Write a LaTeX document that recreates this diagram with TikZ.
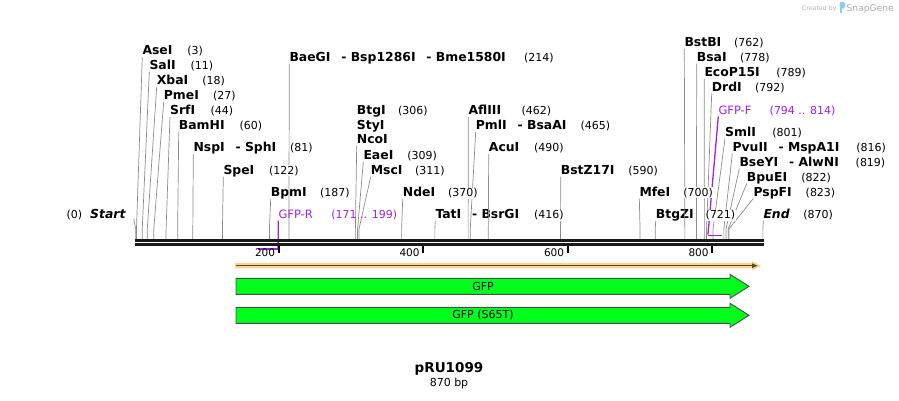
\documentclass[tikz,border=0pt]{standalone}
\usepackage{fontspec}
\setmainfont{DejaVu Sans}
\definecolor{primer}{RGB}{160,32,240}
\definecolor{gfpgreen}{RGB}{0,255,26}
\definecolor{orfband}{RGB}{252,212,140}
\definecolor{orfline}{RGB}{90,72,48}
\definecolor{logoblue}{RGB}{140,205,240}
\newcommand{\sep}{\hspace{6.5pt} - }
\begin{document}
\begin{tikzpicture}[x=1pt,y=-1pt,
    enz/.style={font=\fontsize{12.4}{14}\selectfont\bfseries,inner sep=0pt,anchor=base west},
    num/.style={font=\fontsize{11}{13}\selectfont,inner sep=0.5pt,anchor=base west,fill=white},
    prim/.style={font=\fontsize{11.5}{13}\selectfont,inner sep=0pt,anchor=base west,text=primer},
    siteline/.style={draw=black!45,line width=0.7pt},
    primline/.style={draw=primer,line width=1.3pt},
    tick/.style={font=\fontsize{10.5}{12}\selectfont,inner sep=0pt,anchor=base east},
    feat/.style={font=\fontsize{11}{13}\selectfont,inner sep=0pt},
    arrowbox/.style={fill=gfpgreen,draw=black!70,line width=0.9pt}]
  \useasboundingbox (0,0) rectangle (899,400);

  % cut sites (on the backbone and at the bend)
  \foreach \bpv in {3,11,18,27,44,60,81,122,187,214,306,309,311,370,416,462,465,490,590,700,721,762,778,789,792,801,816,819,822,823,870} {
    \coordinate (s\bpv) at ({134.3+0.7225*\bpv},239);
    \coordinate (k\bpv) at ({134.3+0.7225*\bpv},229);
  }
  \coordinate (s0) at (135.8,239);
  \coordinate (k0) at (135.8,229);
  % primer ends
  \coordinate (p171) at ({134.3+0.7225*171},249);
  \coordinate (p199) at ({134.3+0.7225*199},249);
  \coordinate (p794) at ({134.3+0.7225*794},235.5);
  \coordinate (p814) at ({134.3+0.7225*814},235.5);

  % enzyme names
  \node[enz] (asei) at (142.3,54.3) {AseI};
  \node[enz] (sali) at (149.3,69.3) {SalI};
  \node[enz] (xbai) at (156.7,84.3) {XbaI};
  \node[enz] (pmei) at (163.7,99.3) {PmeI};
  \node[enz] (srfi) at (170,114.3) {SrfI};
  \node[enz] (bamhi) at (178.7,129.3) {BamHI};
  \node[enz] (nspi) at (193.3,151.6) {NspI\sep SphI};
  \node[enz] (spei) at (223.3,174.3) {SpeI};
  \node[enz] (bpmi) at (270.7,196.6) {BpmI};
  \node[enz] (baegi) at (289.3,61) {BaeGI\sep Bsp1286I\sep Bme1580I};
  \node[enz] (btgi) at (356.7,114.3) {BtgI};
  \node[enz] (styi) at (356.7,129.3) {StyI};
  \node[enz] (ncoi) at (356.7,143.6) {NcoI};
  \node[enz] (eaei) at (363.3,159.3) {EaeI};
  \node[enz] (msci) at (370.7,174.3) {MscI};
  \node[enz] (ndei) at (402.7,196.6) {NdeI};
  \node[enz] (tati) at (435.3,218.6) {TatI\sep BsrGI};
  \node[enz] (afliii) at (468.3,114.3) {AflIII};
  \node[enz] (pmli) at (475.7,129.3) {PmlI\sep BsaAI};
  \node[enz] (acui) at (488.7,151.6) {AcuI};
  \node[enz] (bstz) at (560.7,174.3) {BstZ17I};
  \node[enz] (mfei) at (639.3,196) {MfeI};
  \node[enz] (btgzi) at (655.7,218.6) {BtgZI};
  \node[enz] (bstbi) at (684.3,46) {BstBI};
  \node[enz] (bsai) at (696.7,61) {BsaI};
  \node[enz] (ecop) at (704.3,76) {EcoP15I};
  \node[enz] (drdi) at (711.7,91) {DrdI};
  \node[enz] (smli) at (725,136) {SmlI};
  \node[enz] (pvuii) at (732.3,151) {PvuII\sep MspA1I};
  \node[enz] (bseyi) at (739.3,166) {BseYI\sep AlwNI};
  \node[enz] (bpuei) at (746.7,181) {BpuEI};
  \node[enz] (pspfi) at (753.3,196) {PspFI};
  \node[enz,font=\fontsize{12.4}{14}\selectfont\bfseries\itshape] (startlbl) at (90,218.6) {Start};
  \node[enz,font=\fontsize{12.4}{14}\selectfont\bfseries\itshape] (endlbl) at (763.3,218.6) {End};
  \node[prim] (gfpr) at (278.3,218.6) {GFP-R};
  \node[prim] (gfpf) at (718.3,114.3) {GFP-F};

  % lines from the names to the sites
  \draw[siteline] ([yshift=-2.5pt]asei.base west) -- (k3) -- (s3);
  \draw[siteline] ([yshift=-2.5pt]sali.base west) -- (k11) -- (s11);
  \draw[siteline] ([yshift=-2.5pt]xbai.base west) -- (k18) -- (s18);
  \draw[siteline] ([yshift=-2.5pt]pmei.base west) -- (k27) -- (s27);
  \draw[siteline] ([yshift=-2.5pt]srfi.base west) -- (k44) -- (s44);
  \draw[siteline] ([yshift=-2.5pt]bamhi.base west) -- (k60) -- (s60);
  \draw[siteline] ([yshift=-2.5pt]nspi.base west) -- (k81) -- (s81);
  \draw[siteline] ([yshift=-2.5pt]spei.base west) -- (k122) -- (s122);
  \draw[siteline] ([yshift=-2.5pt]bpmi.base west) -- (k187) -- (s187);
  \draw[siteline] ([yshift=-2.5pt]baegi.base west) -- (k214) -- (s214);
  \draw[siteline] ([yshift=-2.5pt]ncoi.base west) -- (k306) -- (s306);
  \draw[siteline] ([yshift=-2.5pt]eaei.base west) -- (k309) -- (s309);
  \draw[siteline] ([yshift=-2.5pt]msci.base west) -- (k311) -- (s311);
  \draw[siteline] ([yshift=-2.5pt]ndei.base west) -- (k370) -- (s370);
  \draw[siteline] ([yshift=-2.5pt]tati.base west) -- (k416) -- (s416);
  \draw[siteline] ([yshift=-2.5pt]afliii.base west) -- (k462) -- (s462);
  \draw[siteline] ([yshift=-2.5pt]pmli.base west) -- (k465) -- (s465);
  \draw[siteline] ([yshift=-2.5pt]acui.base west) -- (k490) -- (s490);
  \draw[siteline] ([yshift=-2.5pt]bstz.base west) -- (k590) -- (s590);
  \draw[siteline] ([yshift=-2.5pt]mfei.base west) -- (k700) -- (s700);
  \draw[siteline] ([yshift=-2.5pt]btgzi.base west) -- (k721) -- (s721);
  \draw[siteline] ([yshift=-2.5pt]bstbi.base west) -- (k762) -- (s762);
  \draw[siteline] ([yshift=-2.5pt]bsai.base west) -- (k778) -- (s778);
  \draw[siteline] ([yshift=-2.5pt]ecop.base west) -- (k789) -- (s789);
  \draw[siteline] ([yshift=-2.5pt]drdi.base west) -- (k792) -- (s792);
  \draw[siteline] ([yshift=-2.5pt]smli.base west) -- (k801) -- (s801);
  \draw[siteline] ([yshift=-2.5pt]pvuii.base west) -- (k816) -- (s816);
  \draw[siteline] ([yshift=-2.5pt]bseyi.base west) -- (k819) -- (s819);
  \draw[siteline] ([yshift=-2.5pt]bpuei.base west) -- (k822) -- (s822);
  \draw[siteline] ([yshift=-2.5pt]pspfi.base west) -- (k823) -- (s823);
  \draw[siteline] ([xshift=8pt]startlbl.base east) -- (k0) -- (s0);
  \draw[siteline] ([yshift=-2pt]endlbl.base west) -- (k870) -- (s870);

  % primers
  \draw[primline] ([yshift=-2pt]gfpr.base west) -- (p199);
  \draw[primline,line width=1.7pt] (p171) -- (p199);
  \draw[primline] ([yshift=-2pt]gfpf.base west) -- ([yshift=1pt]p794);
  \draw[primline,line width=1.7pt] (p794) -- (p814);

  % positions
  \node[num] (asei-n) at (186.7,54.3) {(3)};
  \node[num] (sali-n) at (190,69.3) {(11)};
  \node[num] (xbai-n) at (201.7,84.3) {(18)};
  \node[num] (pmei-n) at (212.3,99.3) {(27)};
  \node[num] (srfi-n) at (210,114.3) {(44)};
  \node[num] (bamhi-n) at (239,129.3) {(60)};
  \node[num] (nspi-n) at (289.3,151.6) {(81)};
  \node[num] (spei-n) at (268.3,174.3) {(122)};
  \node[num] (bpmi-n) at (319.3,196.6) {(187)};
  \node[num] (baegi-n) at (523.3,61) {(214)};
  \node[num] (btgi-n) at (397.3,114.3) {(306)};
  \node[num] (eaei-n) at (406.7,159.3) {(309)};
  \node[num] (msci-n) at (414.3,174.3) {(311)};
  \node[num] (ndei-n) at (447.3,196.6) {(370)};
  \node[num] (tati-n) at (533.3,218.6) {(416)};
  \node[num] (afliii-n) at (521,114.3) {(462)};
  \node[num] (pmli-n) at (580,129.3) {(465)};
  \node[num] (acui-n) at (533.3,151.6) {(490)};
  \node[num] (bstz-n) at (627.7,174.3) {(590)};
  \node[num] (mfei-n) at (682.7,196) {(700)};
  \node[num] (btgzi-n) at (705,218.6) {(721)};
  \node[num] (bstbi-n) at (733.3,46) {(762)};
  \node[num] (bsai-n) at (739.3,61) {(778)};
  \node[num] (ecop-n) at (775.7,76) {(789)};
  \node[num] (drdi-n) at (754.3,91) {(792)};
  \node[num] (smli-n) at (771.7,136) {(801)};
  \node[num] (pvuii-n) at (855.7,151) {(816)};
  \node[num] (bseyi-n) at (855,166) {(819)};
  \node[num] (bpuei-n) at (800.7,181) {(822)};
  \node[num] (pspfi-n) at (805,196) {(823)};
  \node[num] (start-n) at (66,218.6) {(0)};
  \node[num] (end-n) at (802.7,218.6) {(870)};
  \node[num,fill=none,text=primer] (gfpr-n) at (330.7,218.6) {(171 .. 199)};
  \node[num,fill=none,text=primer] (gfpf-n) at (769,114.3) {(794 .. 814)};

  % backbone and ruler
  \draw[line width=2.7pt,black!90] (135,240.3) -- (764,240.3);
  \draw[line width=2.7pt,black!90] (135,244.7) -- (764,244.7);
  \foreach \tk in {200,400,600,800} {
    \draw[line width=1.8pt] ({134.3+0.7225*\tk},246) -- ++(0,6.5);
    \node[tick] (r\tk) at ({134.3+0.7225*\tk-3.5},256.5) {\tk};
  }

  % features
  \fill[orfband] (235,263) -- (752,263) -- (752,261) -- (761,265.7) -- (752,270.4) -- (752,268.4) -- (235,268.4) -- cycle;
  \draw[orfline,line width=1.3pt] (236,265.7) -- (753,265.7);
  \fill[orfline] (752,263.3) -- (757.5,265.7) -- (752,268.1) -- cycle;
  \draw[arrowbox] (236,278.3) -- (730,278.3) -- (730,274.3) -- (749,286.3) -- (730,298.3) -- (730,294.3) -- (236,294.3) -- cycle;
  \draw[arrowbox] (236,307.3) -- (730,307.3) -- (730,303.3) -- (749,315.3) -- (730,327.3) -- (730,323.3) -- (236,323.3) -- cycle;
  \node[feat] (gfp) at (483,286.3) {GFP};
  \node[feat] (gfps) at (483,315.3) {GFP (S65T)};

  % title
  \node[font=\fontsize{13.5}{15}\selectfont\bfseries] (title) at (449,369.3) {pRU1099};
  \node[font=\fontsize{11}{13}\selectfont] (size) at (449,383.5) {870 bp};

  % credit
  \node[font=\fontsize{6.3}{7}\selectfont,text=black!30,inner sep=0pt,anchor=base west] (credit) at (801.7,10) {Created by};
  \fill[logoblue] (839.5,2) rectangle (841.8,13);
  \fill[logoblue,rounded corners=1.5pt] (839.5,2) rectangle (845,8.5);
  \node[font=\fontsize{9.1}{10}\selectfont,text=black!32,inner sep=0pt,anchor=base west] (sg) at (846.5,11) {SnapGene};
\end{tikzpicture}
\end{document}
